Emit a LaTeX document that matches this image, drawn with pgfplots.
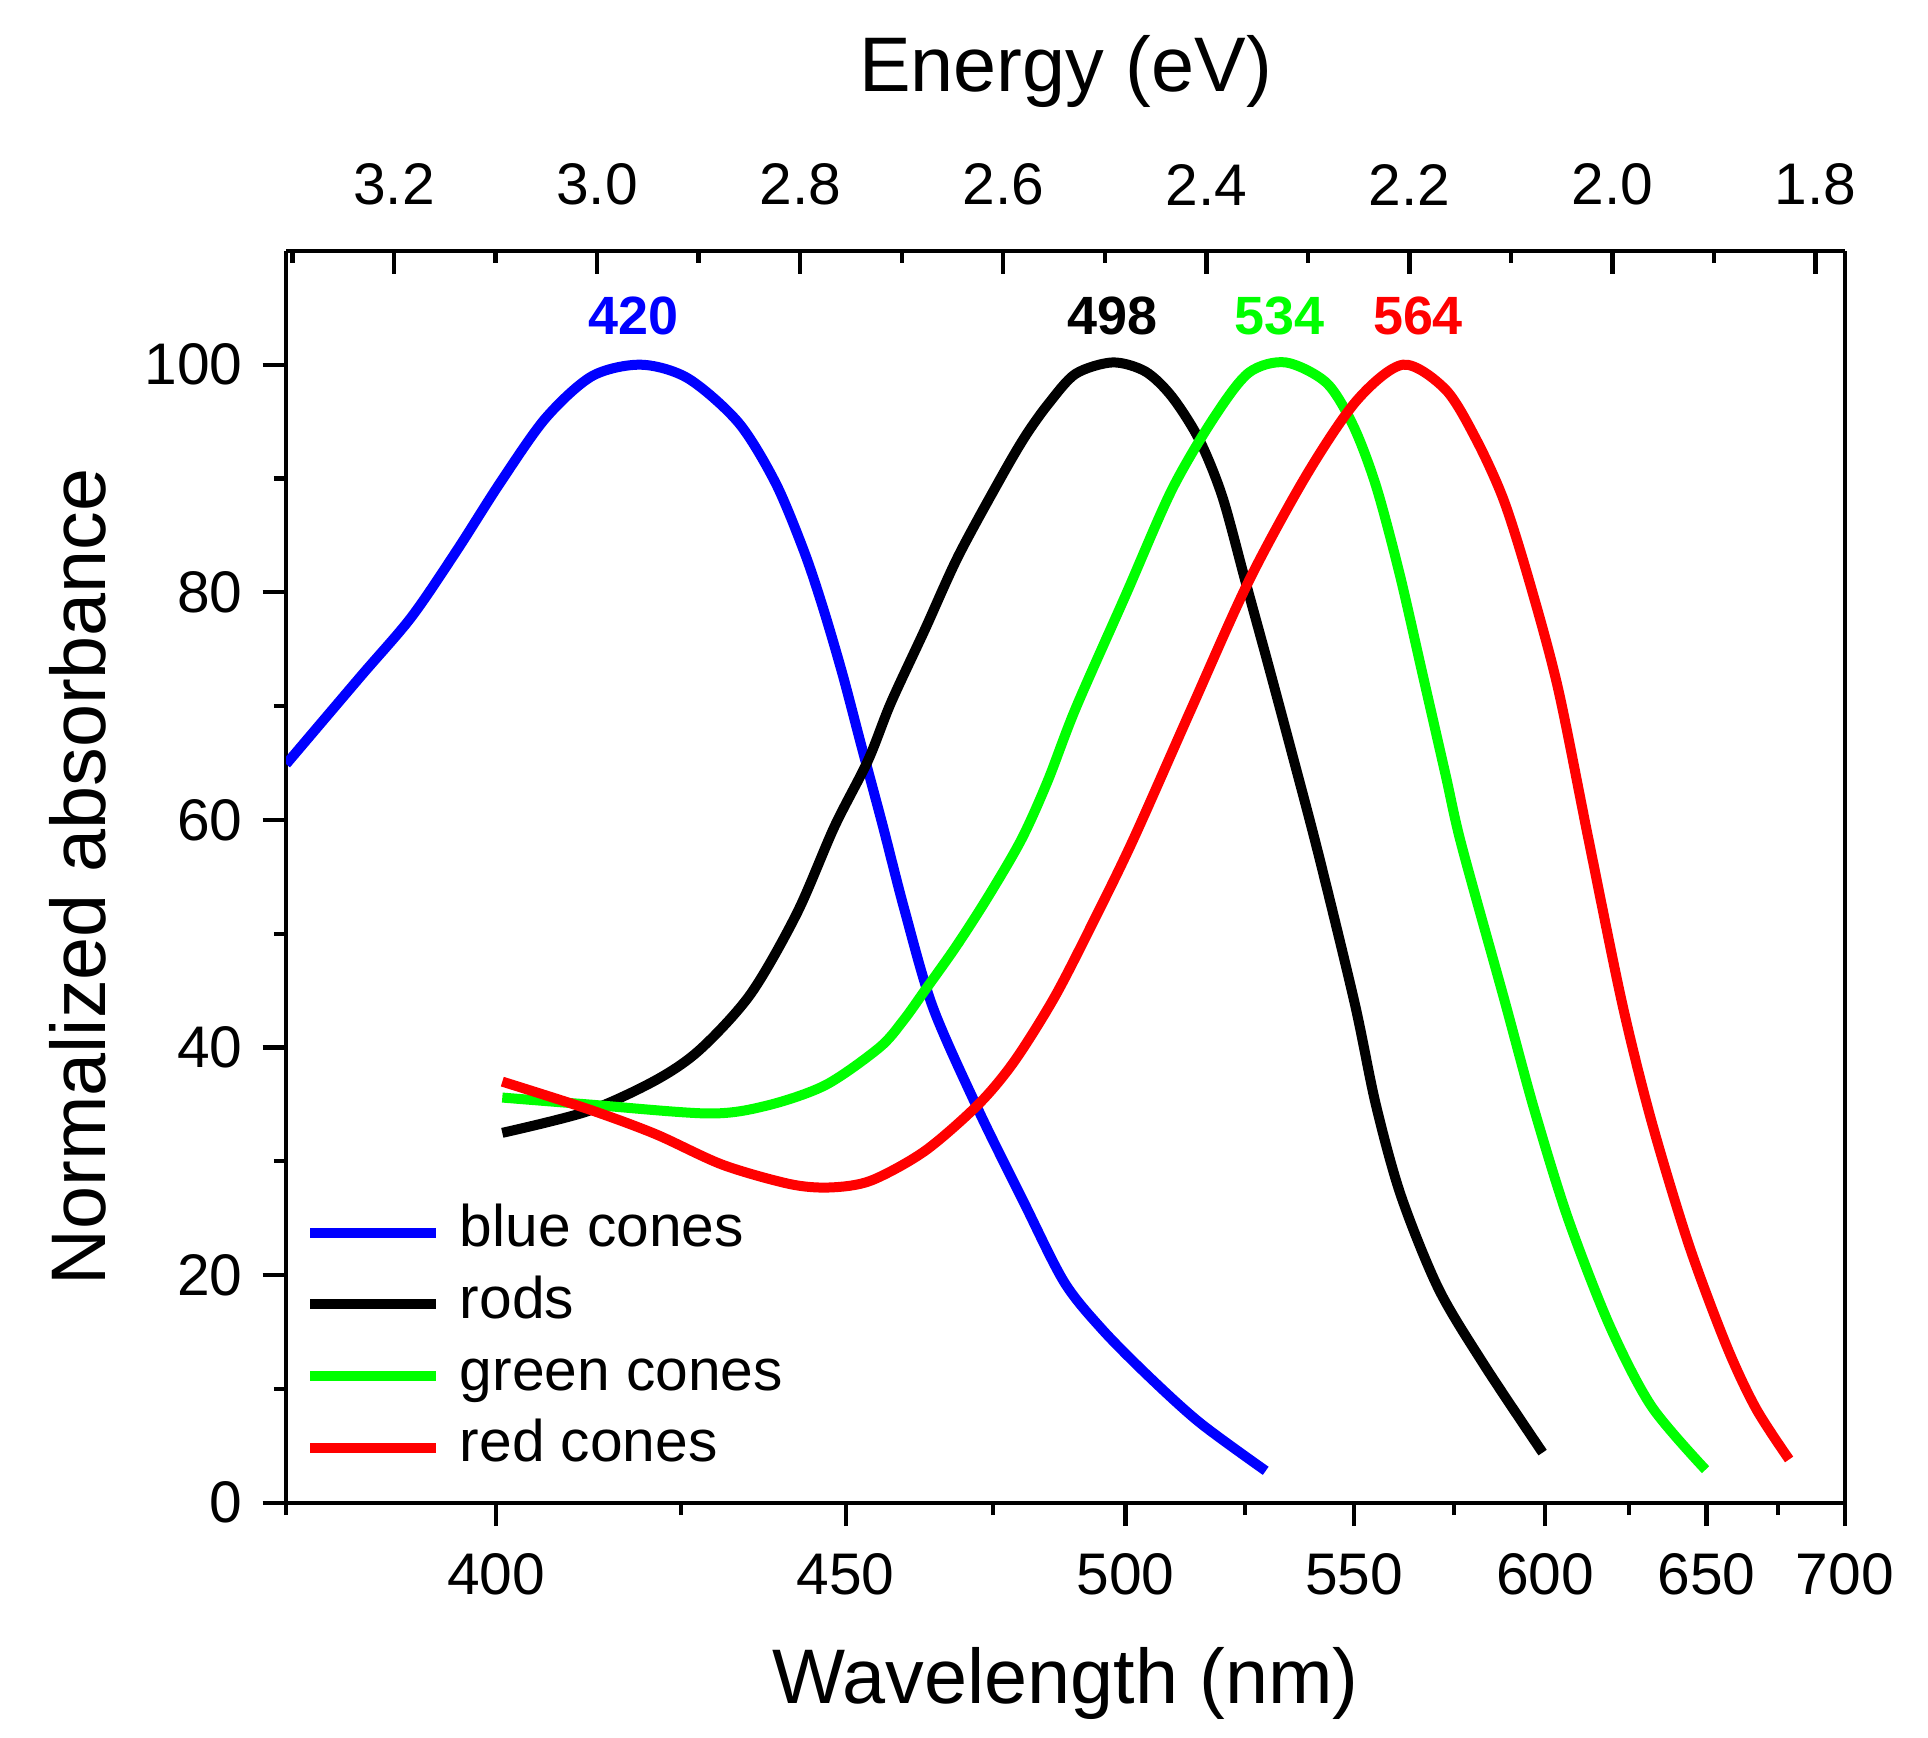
\documentclass[border=0pt]{standalone}
\usepackage{fontspec}
\setmainfont{Liberation Sans}
\usepackage{pgfplots}
\pgfplotsset{compat=1.18}

\definecolor{cblue}{RGB}{0,0,255}
\definecolor{cgreen}{RGB}{0,255,0}
\definecolor{cred}{RGB}{255,0,0}

\begin{document}
\begin{tikzpicture}
\pgfplotsset{
  common/.style={
    scale only axis, width=12.6cm, height=10.12cm,
    x dir=reverse, xmin=1.77120, xmax=3.30624, ymin=0, ymax=110,
    axis line style={-, line width=1pt},
    major tick length=0.19cm, minor tick length=0.1cm,
    every tick/.style={line width=1pt, black},
    ticklabel style={font=\fontsize{13.5}{16}\selectfont},
    label style={font=\fontsize{17.8}{21}\selectfont},
    /pgf/number format/assume math mode=true,
  }
}
% wavelength (bottom) and absorbance
\begin{axis}[
  common,
  axis x line*=bottom, axis y line*=left,
  tick align=outside,
  xtick={3.09960,2.75520,2.47968,2.25425,2.06640,1.90745,1.77120},
  xticklabels={400,450,500,550,600,650,700},
  minor xtick={3.30624,2.91727,2.61019,2.36160,2.15625,1.98374,1.83680},
  ytick={0,20,...,100}, minor ytick={10,30,...,90},
  xticklabel style={yshift=-0.1cm},
  yticklabel style={xshift=-0.04cm},
  xlabel={Wavelength (nm)}, ylabel={Normalized absorbance},
  xlabel style={yshift=-5pt}, ylabel style={yshift=2pt},
  legend style={at={(0.006,0.252)}, anchor=north west, draw=none, fill=none,
    font=\fontsize{13.5}{16}\selectfont, row sep=0pt,
    nodes={text height=9.5pt, text depth=3pt},
    cells={anchor=west}, inner sep=2pt},
  legend image code/.code={\draw[#1, line width=2.3pt] (0cm,0cm) -- (1.02cm,0cm); \path (1.1cm,0cm);},
  every axis plot/.append style={line width=2.3pt, smooth},
]
\addplot[cblue] table[x expr=1239.84/\thisrow{nm}, y=a] {
nm a
375.0 64.9
383.5 72.6
389.5 77.8
395.1 83.7
400.5 89.6
406.4 95.3
412.6 99.0
419.3 100.0
426.0 98.8
433.4 94.9
439.0 89.6
443.4 83.6
446.4 78.6
449.5 72.8
452.5 66.6
456.0 59.6
459.7 52.0
464.5 43.5
472.4 34.5
480.5 26.5
488.1 19.4
495.5 15.2
504.9 11.0
515.3 7.0
529.5 2.8
};
\addlegendentry{blue cones}
\addplot[black] table[x expr=1239.84/\thisrow{nm}, y=a] {
nm a
400.8 32.5
412.0 34.4
421.3 37.1
427.7 39.8
435.2 44.7
442.3 51.8
448.2 59.4
453.6 65.2
457.4 70.3
463.1 76.7
468.9 83.2
476.6 90.2
481.0 93.8
485.2 96.6
490.3 99.2
497.5 100.2
504.0 99.4
509.4 97.2
515.1 93.4
520.0 88.4
525.0 81.0
530.1 73.6
535.3 66.0
541.5 57.0
550.1 43.9
555.2 35.0
561.4 27.0
571.0 18.8
583.1 12.1
599.3 4.4
};
\addlegendentry{rods}
\addplot[cgreen] table[x expr=1239.84/\thisrow{nm}, y=a] {
nm a
400.8 35.6
412.0 35.0
429.0 34.2
437.7 34.9
446.8 36.7
455.5 40.0
459.5 42.4
463.1 45.0
468.5 48.9
474.2 53.3
480.2 58.3
485.0 63.4
490.3 69.8
500.1 79.8
509.4 89.0
518.3 95.4
525.8 99.3
534.0 100.2
543.4 98.4
549.8 94.6
555.3 89.3
561.1 81.6
566.9 72.8
572.9 63.9
577.0 57.8
588.5 44.3
596.9 34.6
606.6 25.0
619.0 15.6
632.0 8.5
649.7 2.9
};
\addlegendentry{green cones}
\addplot[cred] table[x expr=1239.84/\thisrow{nm}, y=a] {
nm a
400.8 37.0
412.0 34.6
421.3 32.4
431.0 29.7
441.2 28.0
447.5 27.7
454.1 28.3
463.1 30.9
472.4 35.0
478.9 38.8
486.4 44.5
494.0 51.3
501.6 58.3
513.5 69.8
525.8 81.0
538.9 90.4
550.7 96.9
562.0 100.0
572.9 97.8
581.0 93.4
588.4 88.1
595.5 81.0
603.7 71.6
612.7 58.3
622.9 43.9
632.0 33.6
644.1 22.7
656.8 13.8
667.0 8.3
679.0 3.8
};
\addlegendentry{red cones}
\begin{scope}[font=\bfseries\fontsize{12.4}{14}\selectfont]
\node[cblue] at (axis cs:2.9646,104.3) {420};
\node[black] at (axis cs:2.4927,104.3) {498};
\node[cgreen] at (axis cs:2.3280,104.3) {534};
\node[cred] at (axis cs:2.1915,104.3) {564};
\end{scope}
\end{axis}
% energy (top)
\begin{axis}[
  common,
  axis x line*=top, axis y line*=right,
  tick align=inside,
  ytick=\empty,
  xtick={1.8,2.0,2.2,2.4,2.6,2.8,3.0,3.2},
  xticklabels={1.8,2.0,2.2,2.4,2.6,2.8,3.0,3.2},
  minor xtick={1.9,2.1,2.3,2.5,2.7,2.9,3.1,3.3},
  xticklabel style={yshift=7pt},
  xlabel={Energy (eV)},
  xlabel style={yshift=6pt},
]
\end{axis}
\path ([xshift=-0.28cm,yshift=0.17cm]current bounding box.north west);
\path ([xshift=0.16cm,yshift=-0.03cm]current bounding box.south east);
\end{tikzpicture}
\end{document}
